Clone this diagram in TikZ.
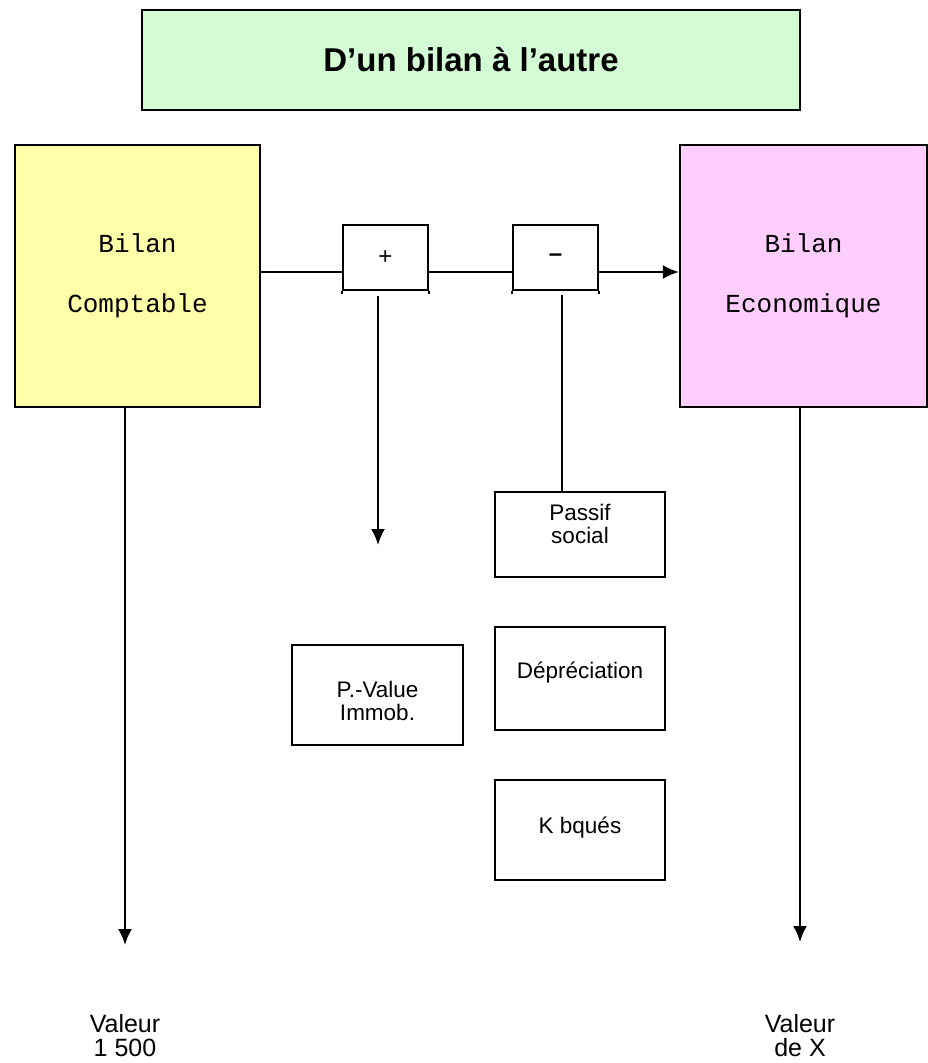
\documentclass[tikz,border=0pt]{standalone}
\usepackage{fontspec}
\setmainfont{Liberation Sans}
\setmonofont{Liberation Mono}
\usepackage{tikz}
\usetikzlibrary{arrows.meta,positioning}
\definecolor{titlegreen}{RGB}{212,252,212}
\definecolor{bilanyellow}{RGB}{255,255,170}
\definecolor{bilanpink}{RGB}{255,206,255}
\newcommand{\titlefont}{\fontsize{33}{36}\bfseries\selectfont}
\newcommand{\bilanfont}{\fontsize{26}{30}\ttfamily\selectfont}
\newcommand{\itemfont}{\fontsize{22.5}{23}\selectfont}
\newcommand{\signfont}{\fontsize{24}{26}\selectfont}
\newcommand{\valfont}{\fontsize{25}{24}\selectfont}
\tikzset{>={Latex[length=16pt,width=14pt]}}
\tikzset{
  titlebox/.style={draw, fill=titlegreen, minimum width=658pt, minimum height=100pt, font=\titlefont},
  bilanbox/.style={draw, minimum width=245pt, minimum height=262pt, align=center, font=\bilanfont},
  signbox/.style={draw, minimum width=85pt, minimum height=65pt, font=\signfont},
  itembox/.style={draw, minimum width=170pt, align=center, font=\itemfont},
  valeur/.style={align=center, font=\valfont},
}
\begin{document}
\begin{tikzpicture}[x=1pt, y=-1pt, line width=2.2pt]
  \useasboundingbox (0,0) rectangle (927,1063);
  \node[titlebox] (titre) at (471,60) {D'un bilan à l'autre};
  \node[bilanbox, fill=bilanyellow] (comptable) at (137.5,276) {Bilan\\[30pt]Comptable};
  \node[bilanbox, fill=bilanpink, minimum width=247pt] (economique) at (803.5,276) {Bilan\\[30pt]Economique};
  \node[signbox] (plus) at (385.5,257.5) {+};
  \node[signbox] (moins) at (555.5,257.5) {\textbf{–}};
  % boxes hanging below the + and -
  \node[itembox, minimum height=85pt] (passif) at (580,534.5) {Passif\\social\\[-2pt]};
  \node[itembox, minimum height=103pt] (deprec) at (580,678.5) {Dépréciation\\[-6pt]};
  \node[itembox, minimum height=100pt] (kbques) at (580,830) {K bqués\\[-14pt]};
  \node[itembox, minimum width=171pt, minimum height=100pt] (pvalue) at (377.5,695) {\\[6pt]P.-Value\\Immob.};
  \node[valeur] (valcompt) at (125,1036) {Valeur\\1 500};
  \node[valeur] (valeco) at (800,1036) {Valeur\\de X};
  \coordinate (ligne) at (0,272);
  \coordinate (pfin) at (378,545);
  \coordinate (mtrait) at (562,295);
  \coordinate (cfin) at (125,945);
  \coordinate (efin) at (800,942);
  \draw (comptable.east |- ligne) -- (plus.west |- ligne);
  \draw (plus.east |- ligne) -- (moins.west |- ligne);
  \draw[->] (moins.east |- ligne) -- (economique.west |- ligne);
  \foreach \b in {plus,moins} {
    \draw (\b.south west) -- ++(0,3);
    \draw (\b.south east) -- ++(0,3);
  }
  \draw[->] (plus.south -| pfin) ++(0,5) -- (pfin);
  \draw (mtrait) -- (passif.north -| mtrait);
  \draw[->] (comptable.south -| cfin) -- (cfin);
  \draw[->] (economique.south -| efin) -- (efin);
\end{tikzpicture}
\end{document}
